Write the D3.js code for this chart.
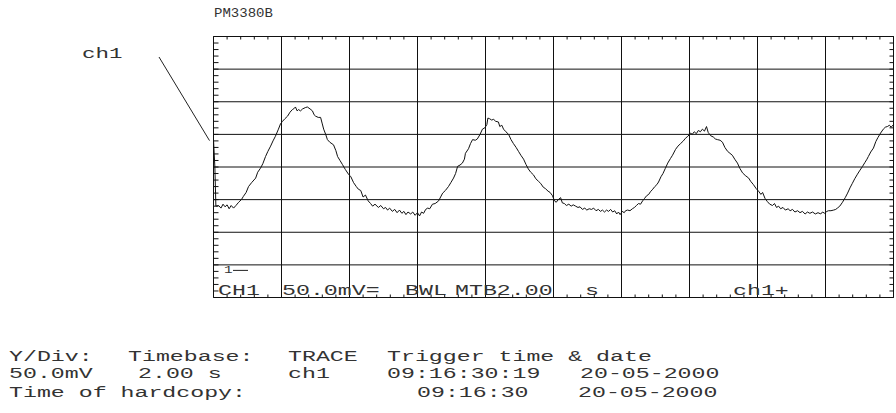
<!DOCTYPE html>
<html>
<head>
<meta charset="utf-8">
<script src="https://cdn.jsdelivr.net/npm/d3@7"></script>
<style>
  html, body { margin: 0; padding: 0; background: #fff; }
  svg { display: block; }
  text { font-family: "Liberation Mono", "DejaVu Sans Mono", monospace; fill: #333; }
</style>
</head>
<body>
<script>
// Channel 1 acquisition: time in seconds (2.00 s/div, 10 div) and amplitude in mV (50.0 mV/div)
const timeS = [
  0.00, 0.04, 0.07, 0.15, 0.22, 0.28, 0.34, 0.40, 0.46, 0.52, 0.59, 0.66, 0.74, 0.82, 0.88, 0.96,
  1.03, 1.12, 1.24, 1.30, 1.38, 1.45, 1.53, 1.60, 1.68, 1.75, 1.82, 1.91, 1.97, 2.03, 2.10, 2.18,
  2.25, 2.32, 2.38, 2.41, 2.46, 2.50, 2.56, 2.62, 2.70, 2.76, 2.84, 2.91, 2.96, 3.00, 3.08, 3.15,
  3.20, 3.24, 3.30, 3.35, 3.42, 3.53, 3.60, 3.65, 3.72, 3.79, 3.88, 3.97, 4.04, 4.12, 4.20, 4.26,
  4.33, 4.40, 4.47, 4.55, 4.62, 4.68, 4.75, 4.85, 4.92, 5.00, 5.06, 5.12, 5.18, 5.26, 5.33, 5.40,
  5.47, 5.54, 5.60, 5.66, 5.72, 5.80, 5.86, 5.93, 6.00, 6.06, 6.12, 6.18, 6.24, 6.30, 6.36, 6.44,
  6.52, 6.62, 6.68, 6.74, 6.82, 6.91, 6.98, 7.06, 7.12, 7.18, 7.25, 7.32, 7.38, 7.41, 7.50, 7.56,
  7.62, 7.70, 7.76, 7.84, 7.91, 7.98, 8.04, 8.07, 8.12, 8.18, 8.24, 8.30, 8.38, 8.42, 8.48, 8.53,
  8.60, 8.68, 8.75, 8.82, 8.90, 8.97, 9.04, 9.12, 9.19, 9.26, 9.33, 9.41, 9.48, 9.56, 9.62, 9.70,
  9.76, 9.84, 9.90, 9.97, 10.03, 10.08, 10.14, 10.21, 10.26, 10.32, 10.38, 10.45, 10.52, 10.58, 10.65, 10.72,
  10.78, 10.85, 10.92, 10.98, 11.05, 11.12, 11.18, 11.25, 11.32, 11.38, 11.44, 11.50, 11.56, 11.62, 11.68, 11.74,
  11.80, 11.86, 11.91, 11.96, 12.02, 12.08, 12.12, 12.18, 12.25, 12.32, 12.38, 12.44, 12.50, 12.56, 12.62, 12.68,
  12.74, 12.80, 12.85, 12.92, 12.98, 13.04, 13.09, 13.16, 13.22, 13.29, 13.36, 13.44, 13.50, 13.59, 13.66, 13.74,
  13.82, 13.88, 13.95, 14.03, 14.08, 14.14, 14.20, 14.26, 14.32, 14.38, 14.44, 14.50, 14.55, 14.62, 14.70, 14.76,
  14.82, 14.90, 14.97, 15.04, 15.12, 15.19, 15.26, 15.33, 15.41, 15.48, 15.56, 15.64, 15.74, 15.80, 15.88, 15.96,
  16.03, 16.10, 16.15, 16.22, 16.29, 16.36, 16.44, 16.50, 16.56, 16.62, 16.68, 16.75, 16.82, 16.90, 16.96, 17.03,
  17.10, 17.18, 17.25, 17.32, 17.40, 17.47, 17.54, 17.62, 17.70, 17.78, 17.86, 17.91, 17.98, 18.04, 18.09, 18.16,
  18.24, 18.30, 18.35, 18.42, 18.50, 18.58, 18.65, 18.72, 18.79, 18.86, 18.94, 19.00, 19.09, 19.16, 19.22, 19.26,
  19.33, 19.41, 19.48, 19.54, 19.62, 19.70, 19.76, 19.82, 19.88, 19.93, 20.00
];
const ch1mV = [
  202, 160, 100, 101, 97, 103, 99, 102, 96, 101, 97, 101, 106, 110, 115, 121,
  130, 136, 143, 152, 158, 165, 176, 184, 192, 200, 207, 218, 226, 230, 234, 238,
  244, 248, 250, 252, 246, 248, 246, 249, 251, 252, 249, 246, 240, 238, 236, 236,
  226, 218, 210, 202, 198, 194, 185, 176, 170, 164, 156, 149, 145, 136, 130, 126,
  124, 114, 117, 108, 104, 100, 103, 98, 101, 96, 98, 94, 97, 92, 95, 90,
  94, 89, 92, 87, 91, 88, 91, 86, 90, 85, 91, 89, 95, 97, 96, 103,
  104, 108, 114, 120, 124, 130, 136, 143, 150, 161, 163, 166, 172, 181, 188, 196,
  202, 201, 203, 210, 218, 220, 225, 235, 234, 232, 233, 230, 229, 222, 224, 218,
  214, 210, 202, 196, 190, 184, 178, 172, 164, 157, 152, 148, 142, 138, 135, 129,
  127, 123, 121, 116, 108, 106, 110, 113, 105, 104, 101, 103, 100, 102, 100, 98,
  99, 95, 97, 94, 96, 95, 97, 93, 95, 92, 94, 91, 94, 92, 95, 91,
  93, 88, 91, 87, 92, 90, 93, 94, 93, 96, 98, 101, 104, 103, 108, 112,
  116, 118, 122, 126, 130, 133, 137, 145, 150, 158, 166, 173, 178, 187, 192, 196,
  200, 204, 207, 212, 210, 214, 211, 216, 214, 218, 215, 222, 213, 208, 206, 203,
  202, 201, 198, 190, 184, 181, 178, 172, 166, 158, 151, 147, 143, 138, 133, 127,
  123, 118, 121, 112, 107, 103, 101, 104, 98, 100, 96, 98, 94, 96, 93, 95,
  91, 93, 90, 92, 88, 91, 89, 91, 88, 90, 88, 91, 89, 92, 93, 93,
  94, 95, 97, 100, 106, 113, 120, 128, 135, 142, 149, 154, 161, 167, 172, 176,
  183, 189, 199, 205, 212, 218, 221, 222, 224, 221, 225
];

// Screen settings
const timeDomain = [0, 20];      // s
const voltDomain = [-40, 360];   // mV (ground marker at 0 mV)
const timePerDiv = 2;
const voltPerDiv = 50;
const minorPerDiv = 5;

// Texts
const modelName = "PM3380B";
const traceName = "ch1";
const groundMark = "1";
const statusItems = [
  { s: "CH1", x: 218 }, { s: "50.0mV=", x: 282 }, { s: "BWL", x: 405 },
  { s: "MTB2.00", x: 455 }, { s: "s", x: 585 }, { s: "ch1+", x: 733 }
];
const footerRows = [
  { y: 361, items: [{ s: "Y/Div:", x: 9 }, { s: "Timebase:", x: 128 }, { s: "TRACE", x: 288 }, { s: "Trigger time & date", x: 387 }] },
  { y: 378, items: [{ s: "50.0mV", x: 9 }, { s: "2.00 s", x: 138 }, { s: "ch1", x: 288 }, { s: "09:16:30:19", x: 387 }, { s: "20-05-2000", x: 580 }] },
  { y: 397, items: [{ s: "Time of hardcopy:", x: 9 }, { s: "09:16:30", x: 417 }, { s: "20-05-2000", x: 578 }] }
];

const W = 896, H = 413;
const svg = d3.select("body").append("svg").attr("width", W).attr("height", H);
svg.append("rect").attr("width", W).attr("height", H).attr("fill", "#fff");

const x = d3.scaleLinear().domain(timeDomain).range([213.5, 893.5]);
const y = d3.scaleLinear().domain(voltDomain).range([297.5, 36.5]);

const [x0, x1] = x.range();
const [y0, y1] = [y.range()[1], y.range()[0]]; // top, bottom

// Graticule: major divisions
const g = svg.append("g").attr("stroke", "#111").attr("stroke-width", 1).attr("fill", "none");
const xMajor = d3.range(timeDomain[0], timeDomain[1] + 1e-9, timePerDiv);
const yMajor = d3.range(voltDomain[0], voltDomain[1] + 1e-9, voltPerDiv);
g.selectAll("line.vx").data(xMajor).join("line")
  .attr("x1", d => x(d)).attr("x2", d => x(d)).attr("y1", y0).attr("y2", y1);
g.selectAll("line.hy").data(yMajor).join("line")
  .attr("y1", d => y(d)).attr("y2", d => y(d)).attr("x1", x0).attr("x2", x1);

// Minor ticks along the frame edges
const xMinor = d3.range(timeDomain[0], timeDomain[1] + 1e-9, timePerDiv / minorPerDiv);
const yMinor = d3.range(voltDomain[0], voltDomain[1] + 1e-9, voltPerDiv / minorPerDiv);
g.selectAll("line.tt").data(xMinor).join("line")
  .attr("x1", d => x(d)).attr("x2", d => x(d)).attr("y1", y0).attr("y2", y0 + 3);
g.selectAll("line.tb").data(xMinor).join("line")
  .attr("x1", d => x(d)).attr("x2", d => x(d)).attr("y1", y1).attr("y2", y1 - 3);
g.selectAll("line.tl").data(yMinor).join("line")
  .attr("y1", d => y(d)).attr("y2", d => y(d)).attr("x1", x0).attr("x2", x0 + 5);
g.selectAll("line.tr").data(yMinor).join("line")
  .attr("y1", d => y(d)).attr("y2", d => y(d)).attr("x1", x1).attr("x2", x1 - 4);

// Trace
const pts = timeS.map((t, i) => [t, ch1mV[i]]);
const line = d3.line().x(d => x(d[0])).y(d => y(d[1]));
svg.append("path").datum(pts)
  .attr("d", line)
  .attr("fill", "none")
  .attr("stroke", "#111")
  .attr("stroke-width", 1)
  .attr("stroke-linejoin", "round");

// Text helper: wide monospace lettering
function label(sel, s, px, py, size, sx) {
  return sel.append("text")
    .attr("transform", `translate(${px},${py}) scale(${sx},1)`)
    .attr("font-size", size)
    .attr("xml:space", "preserve")
    .text(s);
}

// Title
label(svg, modelName, 214, 17, 12, 1.17);

// Trace label with pointer
label(svg, traceName, 82, 58, 15, 1.5);
svg.append("line")
  .attr("x1", 159).attr("y1", 57)
  .attr("x2", x(timeS[0]) - 4).attr("y2", y(ch1mV[0]) + 1)
  .attr("stroke", "#222").attr("stroke-width", 1);

// Ground level marker
label(svg, groundMark, 224, y(0) + 2, 11, 1.3);
svg.append("line")
  .attr("x1", 233).attr("x2", 248)
  .attr("y1", y(0) - 1).attr("y2", y(0) - 1)
  .attr("stroke", "#222").attr("stroke-width", 1);

// Status line inside the screen
statusItems.forEach(d => label(svg, d.s, d.x, 295, 15, 1.55));

// Footer
footerRows.forEach(r => r.items.forEach(d => label(svg, d.s, d.x, r.y, 15, 1.55)));
</script>
</body>
</html>
